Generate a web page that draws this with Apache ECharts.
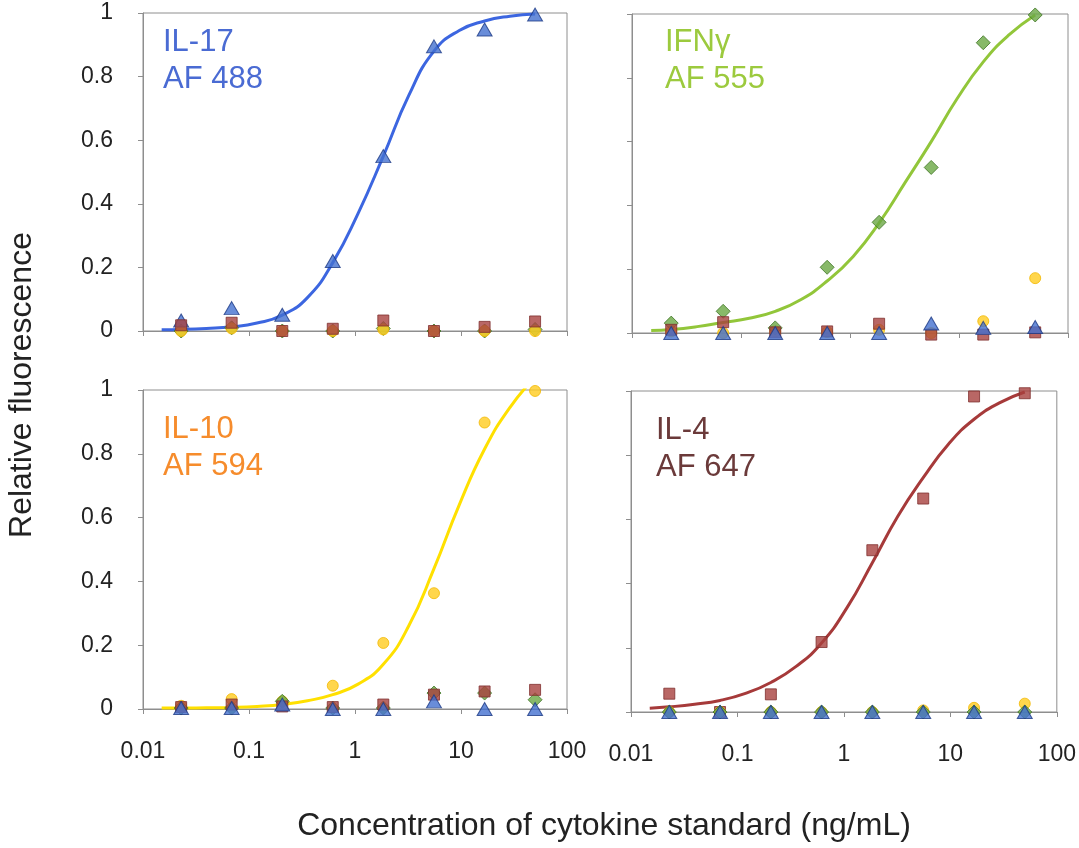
<!DOCTYPE html>
<html>
<head>
<meta charset="utf-8">
<script src="https://cdn.jsdelivr.net/npm/echarts@6/dist/echarts.min.js"></script>
<style>
    html, body { margin: 0; padding: 0; background: #fff; }
    #chart { width: 1079px; height: 848px; }
</style>
</head>
<body>
<div id="chart"></div>
<script>
// standard concentrations (ng/mL), 3-fold dilutions
var conc = [0.0229, 0.0686, 0.206, 0.617, 1.85, 5.56, 16.7, 50];
// x positions (half-steps between standards)
var fitX = [0.015, 0.0229, 0.0396, 0.0686, 0.119, 0.206, 0.356, 0.617, 1.07, 1.85, 3.21, 5.56, 9.63, 16.7, 28.9, 50];
var xTicks = [0.01, 0.1, 1, 10, 100];
var yTicks = [0, 0.2, 0.4, 0.6, 0.8, 1];

// IL-17 / AF 488 panel
var il17Tri = [0.033, 0.072, 0.051, 0.22, 0.55, 0.895, 0.948, 0.995];
var il17Dia = [0, 0.01, 0, 0, 0.008, 0, 0, 0.005];
var il17Cir = [0, 0.008, 0, 0, 0.005, 0, 0, 0];
var il17Sq = [0.018, 0.026, 0, 0.007, 0.033, 0, 0.013, 0.03];
var il17Fit = [0.004, 0.005, 0.008, 0.013, 0.025, 0.05, 0.105, 0.215, 0.37, 0.55, 0.74, 0.88, 0.945, 0.975, 0.99, 0.997];

// IFNγ / AF 555 panel
var ifnDia = [0.031, 0.068, 0.016, 0.206, 0.347, 0.519, 0.91, 0.997];
var ifnSq = [0.01, 0.034, 0.002, 0.005, 0.029, -0.005, -0.005, 0.002];
var ifnCir = [0.005, 0, 0.005, 0.003, 0.01, 0, 0.037, 0.172];
var ifnTri = [0, 0, 0, 0, 0, 0.03, 0.016, 0.019];
var ifnFit = [0.008, 0.011, 0.02, 0.033, 0.046, 0.068, 0.105, 0.163, 0.24, 0.345, 0.472, 0.6, 0.735, 0.85, 0.935, 0.997];

// IL-10 / AF 594 panel
var il10Cir = [0.01, 0.031, 0.024, 0.073, 0.207, 0.363, 0.898, 0.997];
var il10Sq = [0.006, 0.014, 0.008, 0.006, 0.014, 0.045, 0.055, 0.06];
var il10Dia = [0.003, 0.003, 0.024, 0.003, 0.003, 0.05, 0.05, 0.029];
var il10Tri = [0.003, 0.003, 0.014, 0, 0, 0.024, 0, 0];
var il10Fit = [0.003, 0.003, 0.004, 0.005, 0.008, 0.014, 0.026, 0.045, 0.078, 0.14, 0.26, 0.44, 0.64, 0.815, 0.945, 1.04];

// IL-4 / AF 647 panel
var il4Sq = [0.057, 0, 0.055, 0.218, 0.504, 0.665, 0.983, 0.993];
var il4Cir = [0, 0, 0, 0, 0, 0.005, 0.013, 0.026];
var il4Dia = [0, 0, 0, 0, 0, 0, 0, 0];
var il4Tri = [0, 0, 0, 0, 0, 0, 0, 0];
var il4Fit = [0.012, 0.016, 0.024, 0.036, 0.058, 0.092, 0.142, 0.215, 0.325, 0.465, 0.61, 0.73, 0.835, 0.912, 0.963, 0.997];

(function() {
    var chart = echarts.init(document.getElementById('chart'));
    var font = '"Liberation Sans", Arial, Helvetica, sans-serif';

    function pairs(xs, ys) {
        return ys.map(function(v, i) { return [xs[i], v]; });
    }

    var marks = {
        tri: { symbol: 'triangle', symbolSize: [15, 13], color: '#4470d0', border: '#1d3a85' },
        dia: { symbol: 'diamond', symbolSize: [14, 14], color: '#6aa843', border: '#3f7424' },
        cir: { symbol: 'circle', symbolSize: 11, color: '#ffcc1f', border: '#f2b800' },
        sq: { symbol: 'rect', symbolSize: 11, color: '#a8413f', border: '#80302e' }
    };

    function dots(idx, kind, vals) {
        var m = marks[kind];
        return {
            type: 'scatter', xAxisIndex: idx, yAxisIndex: idx,
            symbol: m.symbol, symbolSize: m.symbolSize, clip: false,
            itemStyle: { color: m.color, borderColor: m.border, borderWidth: 1 },
            data: pairs(conc, vals), z: 3
        };
    }

    function fit(idx, vals, color) {
        return {
            type: 'line', xAxisIndex: idx, yAxisIndex: idx,
            smooth: 0.5, showSymbol: false, clip: true,
            lineStyle: { color: color, width: 3 },
            data: pairs(fitX, vals), z: 2
        };
    }

    var grids = [
        { left: 143, top: 13, width: 424, height: 318 },
        { left: 632, top: 14, width: 436, height: 319 },
        { left: 143, top: 390, width: 424, height: 319 },
        { left: 631, top: 391, width: 435, height: 321 }
    ];

    var xAxes = [], yAxes = [];
    grids.forEach(function(g, i) {
        g.show = true;
        g.borderColor = '#8e8e8e';
        g.borderWidth = 1;
        xAxes.push({
            type: 'log', logBase: 10, gridIndex: i,
            min: xTicks[0], max: xTicks[xTicks.length - 1],
            axisLine: { onZero: false, lineStyle: { color: '#8e8e8e' } },
            axisTick: { show: true, length: 5, lineStyle: { color: '#8e8e8e' } },
            minorTick: { show: false },
            splitLine: { show: false },
            axisLabel: {
                show: i >= 2, margin: 31, color: '#222', fontSize: 23, fontFamily: font,
                formatter: function(v) { return String(+v.toPrecision(3)); }
            }
        });
        yAxes.push({
            type: 'value', gridIndex: i,
            min: yTicks[0], max: yTicks[yTicks.length - 1], interval: 0.2,
            axisLine: { show: true, lineStyle: { color: '#8e8e8e' } },
            axisTick: { show: true, length: 5, lineStyle: { color: '#8e8e8e' } },
            splitLine: { show: false },
            axisLabel: {
                show: i % 2 === 0, margin: 30, color: '#222', fontSize: 23, fontFamily: font,
                formatter: function(v) { return String(+v.toFixed(1)); }
            }
        });
    });

    var series = [
        fit(0, il17Fit, '#3c66e0'),
        dots(0, 'dia', il17Dia), dots(0, 'cir', il17Cir), dots(0, 'tri', il17Tri), dots(0, 'sq', il17Sq),

        fit(1, ifnFit, '#92c63a'),
        dots(1, 'cir', ifnCir), dots(1, 'dia', ifnDia), dots(1, 'sq', ifnSq), dots(1, 'tri', ifnTri),

        fit(2, il10Fit, '#ffe000'),
        dots(2, 'cir', il10Cir), dots(2, 'dia', il10Dia), dots(2, 'sq', il10Sq), dots(2, 'tri', il10Tri),

        fit(3, il4Fit, '#a63a3a'),
        dots(3, 'sq', il4Sq), dots(3, 'cir', il4Cir), dots(3, 'dia', il4Dia), dots(3, 'tri', il4Tri)
    ];

    function label(x, y, txt, color) {
        return {
            type: 'text', left: x, top: y, z: 10,
            style: { text: txt, fill: color, fontSize: 31, lineHeight: 37, fontFamily: font }
        };
    }

    option = {
        backgroundColor: '#fff',
        animation: false,
        grid: grids,
        xAxis: xAxes,
        yAxis: yAxes,
        series: series,
        graphic: [
            label(163, 24, 'IL-17\nAF 488', '#4a6bd3'),
            label(665, 24, 'IFNγ\nAF 555', '#9cca3e'),
            label(163, 411, 'IL-10\nAF 594', '#f68c2c'),
            label(656, 412, 'IL-4\nAF 647', '#6b3a3a'),
            {
                type: 'text', x: 22, y: 385, rotation: Math.PI / 2,
                style: { text: 'Relative fluorescence', fill: '#222', fontSize: 32, fontFamily: font,
                         align: 'center', verticalAlign: 'middle' }
            },
            {
                type: 'text', x: 604, y: 826,
                style: { text: 'Concentration of cytokine standard (ng/mL)', fill: '#222', fontSize: 32,
                         fontFamily: font, align: 'center', verticalAlign: 'middle' }
            }
        ]
    };
    chart.setOption(option);
})();
</script>
</body>
</html>
